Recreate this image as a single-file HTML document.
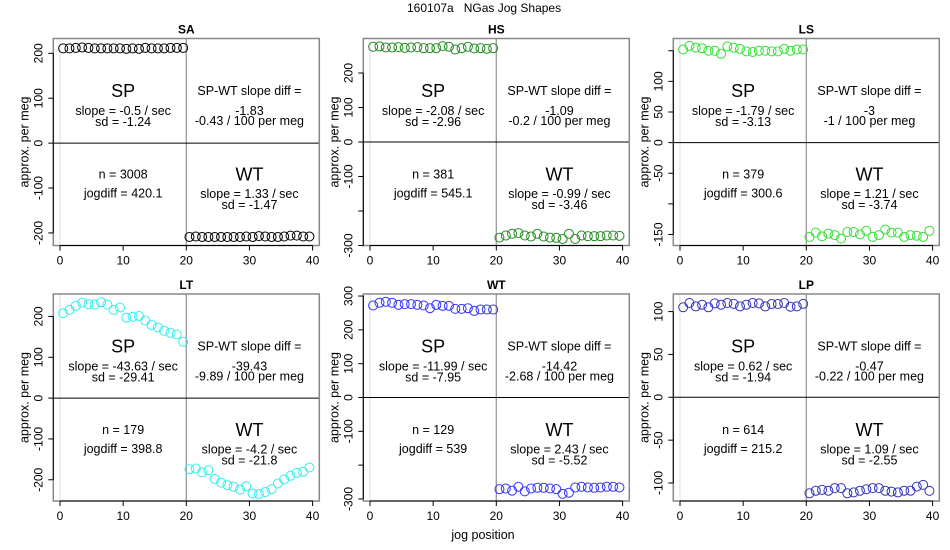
<!DOCTYPE html>
<html><head><meta charset="utf-8"><style>
html,body{margin:0;padding:0;background:#fff;}
svg{display:block;font-family:"Liberation Sans",Arial,sans-serif;}
</style></head><body>
<svg id="chart" width="950" height="550" viewBox="0 0 950 550" xmlns="http://www.w3.org/2000/svg">
<text x="407" y="12" font-size="12" text-anchor="start">160107a&#160;&#160;&#160;NGas Jog Shapes</text>
<text x="483" y="539" font-size="12.5" text-anchor="middle">jog position</text>
</svg>
<script>
const panelNames = ["SA","HS","LS","LT","WT","LP"];
const panelColors = ["#000000","#228B22","#33e033","#33eeee","#3333ff","#3333bb"];
const yLimits = [[-228,233],[-300,300],[-168,170],[-252,255],[-306,306],[-121,120.5]];
const yTicks = [[-200,-100,0,100,200],[-300,-200,-100,0,100,200],[-150,-100,-50,0,50,100,150],[-200,-100,0,100,200],[-300,-200,-100,0,100,200,300],[-100,-50,0,50,100]];
const yTickLabels = [["-200","-100","0","100","200"],["-300","","-100","0","100","200"],["-150","","-50","0","50","100",""],["-200","-100","0","100","200"],["-300","","-100","0","100","200","300"],["-100","-50","0","50","100"]];
const xTicks = [0,10,20,30,40];
const spValues = [
 [211,211,212,213,212,211,211,211,211,211,210,211,210,212,211,211,211,212,212,212],
 [276,277,274,274,275,273,274,275,272,272,272,278,276,268,272,276,271,272,270,272],
 [152,158,155,154,150,150,145,157,155,153,149,148,150,150,149,149,153,150,152,152],
 [208,216,226,234,230,229,235,229,216,222,197,199,201,190,179,173,165,160,156,138],
 [272,280,283,280,274,276,276,274,272,264,274,271,271,262,262,264,256,260,260,260],
 [105,110,106,108,105,109.5,108,110,109,106,108,110,109.5,106,108.8,108.8,110,105.6,106,109]
];
const wtValues = [
 [-209,-208,-209,-209,-209,-209,-209,-209,-209,-208,-209,-207,-208,-209,-209,-208,-206,-206,-208,-208],
 [-277,-271,-266,-264,-271,-274,-266,-274,-277,-278,-281,-266,-281,-271,-273,-273,-273,-271,-271,-272],
 [-154,-147,-153,-148.6,-151,-156.8,-146,-146,-150,-144,-154,-151,-142,-147,-147,-154,-151,-152,-154,-144],
 [-174,-172.5,-182,-176.5,-198,-207,-213,-217,-224,-216,-234,-235,-230,-223,-209,-199,-190,-183,-180.5,-170],
 [-271,-269,-275.5,-264,-277.5,-269,-267,-267,-269,-271,-285,-281.5,-266,-264,-266,-267,-266,-264,-264,-266],
 [-112,-109,-108,-109,-106,-106,-112,-111,-109,-107.3,-106,-106,-109,-110,-111,-109,-109,-104.2,-102.2,-109.2]
];
const spSlope = ["-0.5","-2.08","-1.79","-43.63","-11.99","0.62"];
const spSd = ["-1.24","-2.96","-3.13","-29.41","-7.95","-1.94"];
const wtSlope = ["1.33","-0.99","1.21","-4.2","2.43","1.09"];
const wtSd = ["-1.47","-3.46","-3.74","-21.8","-5.52","-2.55"];
const slopeDiff = ["-1.83","-1.09","-3","-39.43","-14.42","-0.47"];
const slopeDiffPerMeg = ["-0.43","-0.2","-1","-9.89","-2.68","-0.22"];
const nValues = ["3008","381","379","179","129","614"];
const jogdiff = ["420.1","545.1","300.6","398.8","539","215.2"];

const NS = "http://www.w3.org/2000/svg";
const svg = document.getElementById("chart");
function mk(tag, attrs, parent, text){
  const e = document.createElementNS(NS, tag);
  for (const k in attrs) e.setAttribute(k, attrs[k]);
  if (text !== undefined) e.textContent = text;
  (parent||svg).appendChild(e);
  return e;
}
const colLeft = [53.3, 363.3, 673.3], rowTop = [38.5, 294];
const W = 266, H = 207;
const xMin = -1.06, xMax = 41.06;

panelNames.forEach((name, p) => {
  const L = colLeft[p % 3], T = rowTop[Math.floor(p / 3)];
  const [y0, y1] = yLimits[p];
  const sx = v => L + (v - xMin) / (xMax - xMin) * W;
  const sy = v => T + H - (v - y0) / (y1 - y0) * H;
  const g = mk("g", {});
  
  

  const t = mk("text", {x: L + W/2, y: T - 5, "font-size": 12, "font-weight": "bold", "text-anchor": "middle"}, g, name);
  
  

  const gl = mk("line", {x1: sx(0), x2: sx(0), y1: T, y2: T + H, stroke: "#dddddd", "stroke-width": 1}, g);
  
  
  const vl = mk("line", {x1: sx(20), x2: sx(20), y1: T, y2: T + H, stroke: "#999999", "stroke-width": 1.3}, g);
  
  
  const hl = mk("line", {x1: L, x2: L + W, y1: sy(0), y2: sy(0), stroke: "#000", "stroke-width": 1}, g);
  
  

  const box = mk("rect", {x: L, y: T, width: W, height: H, fill: "none", stroke: "#888888", "stroke-width": 1.5}, g);
  
  

  const xa = mk("line", {x1: sx(0), x2: sx(40), y1: T + H, y2: T + H, stroke: "#000", "stroke-width": 1}, g);
  
  
  xTicks.forEach(v => {
    const tk = mk("line", {x1: sx(v), x2: sx(v), y1: T + H, y2: T + H + 5, stroke: "#000"}, g);
    
    
    const tl = mk("text", {x: sx(v), y: T + H + 19, "font-size": 12, "text-anchor": "middle"}, g, String(v));
    
    
  });
  const yt = yTicks[p];
  const ya = mk("line", {x1: L, x2: L, y1: sy(yt[0]), y2: sy(yt[yt.length-1]), stroke: "#000", "stroke-width": 1}, g);
  
  
  yt.forEach((v, i) => {
    const tk = mk("line", {x1: L - 5, x2: L, y1: sy(v), y2: sy(v), stroke: "#000"}, g);
    
    
    const lab = yTickLabels[p][i];
    if (lab) {
      const tl = mk("text", {x: 0, y: 0, "font-size": 12, "text-anchor": "middle", transform: `translate(${L - 11},${sy(v)}) rotate(-90)`}, g, lab);
      
      
    }
  });
  const yl = mk("text", {x: 0, y: 0, "font-size": 12.5, "text-anchor": "middle", transform: `translate(${L - 25},${T + H/2}) rotate(-90)`}, g, "approx. per meg");
  
  

  const cxL = sx(10), cxR = sx(30);
  const ann = [
    [cxL, 52.5, 18, "SP", "sp-label"],
    [cxL, 72.5, 12.5, "slope = " + spSlope[p] + " / sec", "sp-slope"],
    [cxL, 83.5, 12.5, "sd = " + spSd[p], "sp-sd"],
    [cxR, 52.5, 12.5, "SP-WT slope diff =", "slope-diff-label"],
    [cxR, 72.5, 12.5, slopeDiff[p], "slope-diff-value"],
    [cxR, 82.5, 12.5, slopeDiffPerMeg[p] + " / 100 per meg", "slope-diff-per-meg"],
    [cxL, 136, 12.5, "n = " + nValues[p], "n-count"],
    [cxL, 155, 12.5, "jogdiff = " + jogdiff[p], "jogdiff"],
    [cxR, 136, 18, "WT", "wt-label"],
    [cxR, 155.3, 12.5, "slope = " + wtSlope[p] + " / sec", "wt-slope"],
    [cxR, 166.3, 12.5, "sd = " + wtSd[p], "wt-sd"]
  ];
  ann.forEach(a => {
    const tx = mk("text", {x: a[0], y: T + a[1], "font-size": a[2], "text-anchor": "middle", "dominant-baseline": "central"}, g, a[3]);
    
    
  });

  spValues[p].forEach((v, i) => {
    const c = mk("circle", {cx: sx(i + 0.5), cy: sy(v), r: 4.5, fill: "none", stroke: panelColors[p], "stroke-width": 1}, g);
    
    
  });
  wtValues[p].forEach((v, i) => {
    const c = mk("circle", {cx: sx(i + 20.5), cy: sy(v), r: 4.5, fill: "none", stroke: panelColors[p], "stroke-width": 1}, g);
    
    
  });
});
</script>
</body></html>
